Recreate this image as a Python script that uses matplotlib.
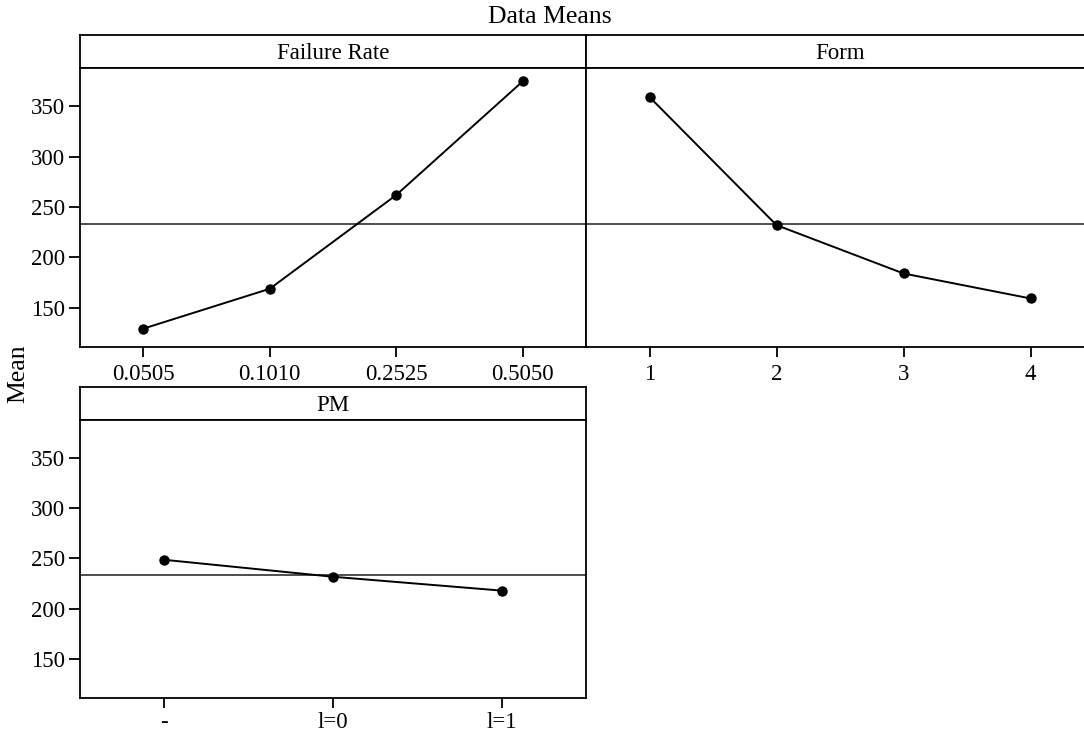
import matplotlib
matplotlib.use("Agg")
import matplotlib.pyplot as plt

# means
failure_levels = ["0.0505", "0.1010", "0.2525", "0.5050"]
failure_means = [129.2, 168.8, 261.9, 374.8]

form_levels = ["1", "2", "3", "4"]
form_means = [359.2, 232.0, 184.0, 159.2]

pm_levels = ["-", "l=0", "l=1"]
pm_means = [248.7, 231.8, 218.0]

grand_mean = 233.3

plt.rcParams["font.family"] = ["Liberation Serif", "DejaVu Serif"]
plt.rcParams["font.size"] = 16.5

W, H = 1084.0, 733.0
fig = plt.figure(figsize=(W / 100, H / 100), dpi=100)


def box(x0, y0, x1, y1):
    # pixel box (top-left origin) -> figure fraction rect
    return [x0 / W, 1 - y1 / H, (x1 - x0) / W, (y1 - y0) / H]


def panel(x0, x1, ytop, yhead, ybot, title, levels, means, yticks=True, xpad=5):
    hd = fig.add_axes(box(x0, ytop, x1, yhead))
    hd.set_xticks([])
    hd.set_yticks([])
    for s in hd.spines.values():
        s.set_linewidth(1.3)
    hd.text(0.5, 0.45, title, ha="center", va="center", transform=hd.transAxes)

    ax = fig.add_axes(box(x0, yhead, x1, ybot))
    for s in ax.spines.values():
        s.set_linewidth(1.3)
    x = list(range(len(levels)))
    ax.axhline(grand_mean, color="#404040", lw=1.3, zorder=1)
    ax.plot(x, means, color="black", lw=1.4, marker="o", ms=6.5, zorder=3)
    ax.set_xlim(-0.5, len(levels) - 0.5)
    ax.set_ylim(111, 388)
    ax.set_xticks(x)
    ax.set_xticklabels(levels)
    ax.tick_params(axis="x", direction="out", length=7, width=1.3, pad=xpad)
    if yticks:
        ax.set_yticks([150, 200, 250, 300, 350])
        ax.tick_params(axis="y", direction="out", length=8, width=1.3, pad=3)
    else:
        ax.set_yticks([])
    return ax


panel(80, 586, 35, 68, 347, "Failure Rate", failure_levels, failure_means)
panel(586, 1094, 35, 68, 347, "Form", form_levels, form_means, yticks=False)
panel(80, 586, 387, 420, 698, "PM", pm_levels, pm_means, xpad=3)

fig.text(550 / W, 1 - 17 / H, "Data Means", ha="center", va="center", fontsize=18.5)
fig.text(18 / W, 1 - 374 / H, "Mean", ha="center", va="center", rotation=90,
         fontsize=18.5)

fig.savefig("out.png", dpi=100)
